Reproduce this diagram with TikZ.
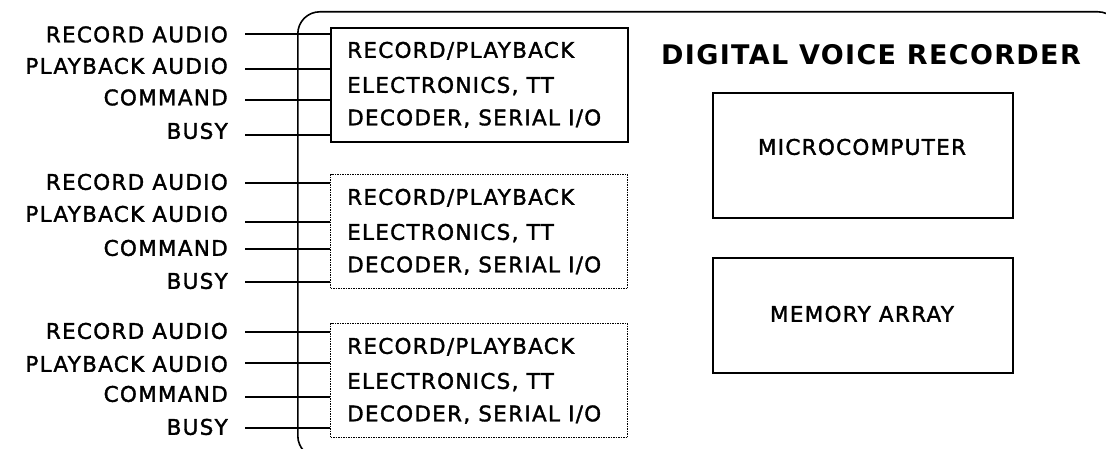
\documentclass[tikz,border=0pt]{standalone}
\usepackage{fontspec}
\setmainfont{DejaVu Sans}[LetterSpace=6,FakeBold=1.6]
\newfontfamily\titlefont{DejaVu Sans}[LetterSpace=5]
\begin{document}
\begin{tikzpicture}[x=1pt,y=-1pt,
  txt/.style={font=\fontsize{21.5}{26}\selectfont, inner sep=0pt},
  lbl/.style={txt, anchor=base east},
  boxtxt/.style={txt, anchor=base west},
  wire/.style={line width=1.6pt},
  blk/.style={draw, line width=1.6pt, inner sep=0pt, anchor=north west},
  solidbox/.style={blk, minimum width=297pt, minimum height=114pt},
  dotbox/.style={blk, line width=1.3pt, dash pattern=on 1.6pt off 0.9pt, minimum width=297pt, minimum height=114pt},
  bigbox/.style={blk, minimum width=300pt},
]
\useasboundingbox (0,0) rectangle (1106,449);
% outer enclosure
\node[blk, rounded corners=22pt, minimum width=822pt, minimum height=446pt] (outer) at (297,11) {};
% title
\node[font=\titlefont\bfseries\fontsize{27}{32}\selectfont, inner sep=0pt, anchor=base] (title) at (871,64.5) {DIGITAL VOICE RECORDER};
% right blocks
\node[bigbox, minimum height=125pt] (mc) at (712,92) {};
\node[txt, anchor=base] (mct) at (862,154.8) {MICROCOMPUTER};
\node[bigbox, minimum height=115pt] (mem) at (712,257) {};
\node[txt, anchor=base] (memt) at (862,321.8) {MEMORY ARRAY};
% left blocks
\node[solidbox] (b1) at (330,27) {};
\node[dotbox] (b2) at (330,174) {};
\node[dotbox] (b3) at (330,323) {};
\foreach \b/\t in {1/27,2/174,3/323}{
  \node[boxtxt] (b\b-l1) at (347,\t+30.8) {RECORD/PLAYBACK};
  \node[boxtxt] (b\b-l2) at (347,\t+65.8) {ELECTRONICS, TT};
  \node[boxtxt] (b\b-l3) at (347,\t+98.3) {DECODER, SERIAL I/O};
}
% labels and wires
\foreach \g/\ya/\yb/\yc/\yd/\la/\lb/\lc/\ld in {
  1/34/69/100/135/34.5/66/97.5/131,
  2/183/222/249/282/182/214/248/281,
  3/332/363/397/428/331/364/394/427}{
  \node[lbl] (g\g-ra) at (228,\la+7.8) {RECORD AUDIO};
  \node[lbl] (g\g-pa) at (228,\lb+7.8) {PLAYBACK AUDIO};
  \node[lbl] (g\g-cm) at (228,\lc+7.8) {COMMAND};
  \node[lbl] (g\g-bs) at (228,\ld+7.8) {BUSY};
  \coordinate (w\g-ra) at (245,\ya);
  \coordinate (w\g-pa) at (245,\yb);
  \coordinate (w\g-cm) at (245,\yc);
  \coordinate (w\g-bs) at (245,\yd);
  \foreach \s in {ra,pa,cm,bs}{
    \draw[wire] (w\g-\s) -- (w\g-\s -| b\g.west);
  }
}
\end{tikzpicture}
\end{document}
